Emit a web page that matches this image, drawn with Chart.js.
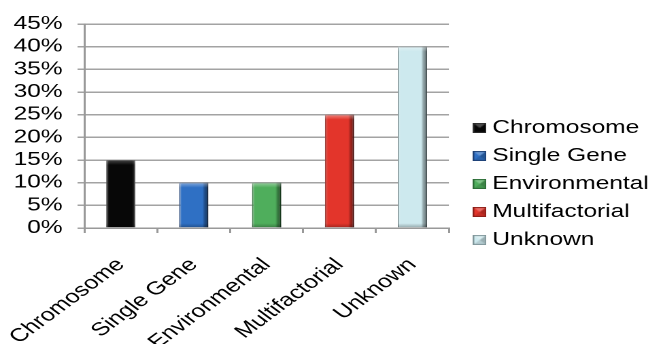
<!DOCTYPE html>
<html>
<head>
<meta charset="utf-8">
<script src="https://cdn.jsdelivr.net/npm/chart.js@4/dist/chart.umd.min.js"></script>
<style>
  html, body { margin: 0; padding: 0; background: #fff; overflow: hidden; }
  /* the figure is laid out narrow and widened horizontally */
  #wrap { width: 482.4px; height: 344px; overflow: hidden; transform: scaleX(1.36); transform-origin: 0 0; }
  #c { display: block; width: 487px; height: 344px; }
</style>
</head>
<body>
<div id="wrap"><canvas id="c" width="487" height="344"></canvas></div>
<script>
// Causes of birth defects, share of cases (%)
const categories = ['Chromosome', 'Single Gene', 'Environmental', 'Multifactorial', 'Unknown'];
const shares = [15, 10, 10, 25, 40];
const yTicks = [0, 5, 10, 15, 20, 25, 30, 35, 40, 45];

const fills = ['#070707', '#2f70c4', '#4fae5c', '#e3352b', '#cde9ee'];
const edges = ['#2e2e2e', '#1d3f73', '#2b6a35', '#8a1d17', '#7f9599'];

// Small bevelled swatches for the legend
function swatch(fill, edge) {
  const c = document.createElement('canvas');
  c.width = 10; c.height = 10;
  const g = c.getContext('2d');
  g.fillStyle = fill; g.fillRect(0, 0, 10, 10);
  g.fillStyle = 'rgba(255,255,255,0.28)';
  g.beginPath(); g.moveTo(0, 0); g.lineTo(10, 0); g.lineTo(5, 5); g.closePath(); g.fill();
  g.fillStyle = 'rgba(0,0,0,0.25)';
  g.beginPath(); g.moveTo(10, 0); g.lineTo(10, 10); g.lineTo(5, 5); g.closePath(); g.fill();
  g.fillStyle = 'rgba(0,0,0,0.12)';
  g.beginPath(); g.moveTo(0, 10); g.lineTo(10, 10); g.lineTo(5, 5); g.closePath(); g.fill();
  g.strokeStyle = edge; g.lineWidth = 1; g.strokeRect(0.5, 0.5, 9, 9);
  return c;
}
const swatches = fills.map((f, i) => swatch(f, edges[i]));

// Bevel shading on top of each bar, using the bar element geometry
const bevel = {
  id: 'bevel',
  afterDatasetsDraw(chart) {
    const ctx = chart.ctx;
    chart.getDatasetMeta(0).data.forEach((bar, i) => {
      const w = bar.width, l = bar.x - w / 2, t = bar.y, h = bar.base - bar.y;
      ctx.save();
      const g = ctx.createLinearGradient(l, 0, l + w, 0);
      if (i === 0) {
        g.addColorStop(0, 'rgba(255,255,255,0.18)');
        g.addColorStop(0.12, 'rgba(255,255,255,0.0)');
        g.addColorStop(0.88, 'rgba(255,255,255,0.0)');
        g.addColorStop(1, 'rgba(255,255,255,0.18)');
      } else {
        g.addColorStop(0, 'rgba(255,255,255,0.18)');
        g.addColorStop(0.12, 'rgba(255,255,255,0)');
        g.addColorStop(0.8, 'rgba(0,0,0,0)');
        g.addColorStop(0.88, 'rgba(0,0,0,0.3)');
        g.addColorStop(1, 'rgba(0,0,0,0.5)');
      }
      ctx.fillStyle = g;
      ctx.fillRect(l, t, w, h);
      const gt = ctx.createLinearGradient(0, t, 0, t + 5);
      gt.addColorStop(0, i === 0 ? 'rgba(255,255,255,0.25)' : 'rgba(255,255,255,0.4)');
      gt.addColorStop(1, 'rgba(255,255,255,0)');
      ctx.fillStyle = gt;
      ctx.fillRect(l, t, w, 5);
      const gb = ctx.createLinearGradient(0, bar.base - 4, 0, bar.base);
      gb.addColorStop(0, 'rgba(0,0,0,0)');
      gb.addColorStop(1, 'rgba(0,0,0,0.25)');
      ctx.fillStyle = gb;
      ctx.fillRect(l, bar.base - 4, w, 4);
      ctx.restore();
    });
  }
};

const family = '"Liberation Sans", Arial, sans-serif';

new Chart(document.getElementById('c'), {
  type: 'bar',
  data: {
    labels: categories,
    datasets: [{
      data: shares,
      backgroundColor: fills,
      borderColor: edges,
      borderWidth: 1,
      barPercentage: 0.4,
      categoryPercentage: 1.0
    }]
  },
  options: {
    responsive: false,
    devicePixelRatio: 2,
    animation: false,
    layout: { padding: { top: 24, right: 0, bottom: 0, left: 0 } },
    plugins: {
      tooltip: { enabled: false },
      legend: {
        position: 'right',
        maxWidth: 300,
        onClick: null,
        labels: {
          font: { family: family, size: 18 },
          color: '#000',
          usePointStyle: true,
          pointStyleWidth: 0.5,
          padding: 10,
          generateLabels: (chart) => categories.map((name, i) => ({
            text: name,
            fillStyle: fills[i],
            strokeStyle: edges[i],
            pointStyle: swatches[i],
            lineWidth: 1,
            hidden: false,
            index: i
          }))
        }
      }
    },
    scales: {
      x: {
        type: 'category',
        grid: { display: true, drawOnChartArea: false, drawTicks: true, tickLength: 5, color: '#999', lineWidth: 1.5, offset: true },
        border: { display: true, color: '#999', width: 1.5 },
        ticks: { font: { family: family, size: 18.5 }, color: '#000', autoSkip: false, minRotation: 45, maxRotation: 45, padding: 21 },
        afterFit(scale) { scale.height = 116; scale.paddingLeft = 0; scale.paddingRight = 0; }
      },
      y: {
        min: 0,
        max: 45,
        afterBuildTicks(scale) { scale.ticks = yTicks.map(v => ({ value: v })); },
        grid: { color: '#a3a3a3', lineWidth: 1.5, tickLength: 5 },
        border: { display: true, color: '#999', width: 1.5 },
        ticks: { font: { family: family, size: 18 }, color: '#000', padding: 11, autoSkip: false, callback: (v) => v + '%' },
        afterFit(scale) { scale.width = 62; }
      },
      y2: {
        position: 'right',
        display: true,
        grid: { display: false },
        border: { display: false },
        ticks: { display: false },
        afterFit(scale) { scale.width = 12.4; }
      }
    }
  },
  plugins: [bevel]
});
</script>
</body>
</html>
